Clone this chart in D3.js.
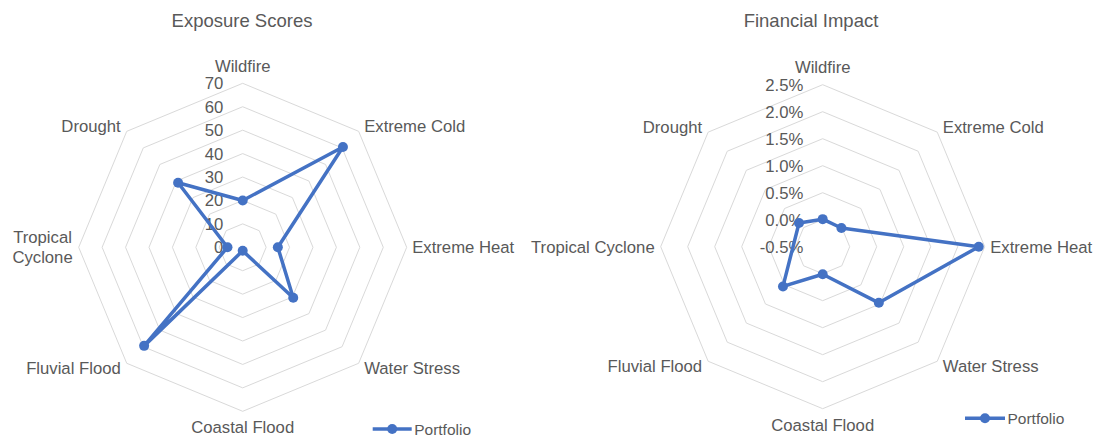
<!DOCTYPE html>
<html>
<head>
<meta charset="utf-8">
<script src="https://cdn.jsdelivr.net/npm/d3@7"></script>
<style>
  html, body { margin: 0; padding: 0; background: #ffffff; }
  svg text { font-family: "Liberation Sans", Arial, sans-serif; fill: #595959; }
</style>
</head>
<body>
<svg id="chart" width="1097" height="437"></svg>
<script>
// ---- data ----
const categories = ["Wildfire", "Extreme Cold", "Extreme Heat", "Water Stress",
                    "Coastal Flood", "Fluvial Flood", "Tropical Cyclone", "Drought"];
const seriesName = "Portfolio";
const exposureScores = [20, 60.5, 15, 30.5, 1.5, 59.5, 6.5, 39];
// percent; Tropical Cyclone has no value (line connects its neighbours, no marker)
const financialImpact = [0.01, -0.01, 2.39, 0.97, 0.01, 0.54, null, 0.12];
const exposureTicks = [0, 10, 20, 30, 40, 50, 60, 70];
const impactTicks = [-0.5, 0.0, 0.5, 1.0, 1.5, 2.0, 2.5];
const titles = ["Exposure Scores", "Financial Impact"];

// ---- layout ----
const svg = d3.select("#chart");
const COLOR = "#4472C4";
const GRID = "#d9d9d9";
const LABEL_SIZE = 16.7;

const panels = [
  { title: titles[0], values: exposureScores, ticks: exposureTicks,
    fmt: d3.format("d"), cx: 242.7, cy: 247.3, R: 164, titleX: 242, titleY: 26.5,
    legend: { x1: 372.7, x2: 411.7, y: 429 } },
  { title: titles[1], values: financialImpact, ticks: impactTicks,
    fmt: d => d.toFixed(1) + "%", cx: 822.7, cy: 246.7, R: 162, titleX: 811, titleY: 26.5,
    legend: { x1: 965, x2: 1005, y: 418.3 } }
];

const n = categories.length;
const angle = d3.scaleLinear().domain([0, n]).range([0, 2 * Math.PI]);

panels.forEach(p => {
  const g = svg.append("g");
  const r = d3.scaleLinear()
    .domain(d3.extent(p.ticks))
    .range([0, p.R]);
  const pt = (i, v) => {
    const a = angle(i), rr = r(v);
    return [p.cx + rr * Math.sin(a), p.cy - rr * Math.cos(a)];
  };

  // title
  g.append("text")
    .attr("x", p.titleX).attr("y", p.titleY)
    .attr("text-anchor", "middle")
    .style("font-size", "18.5px")
    .text(p.title);

  // grid rings (skip centre)
  const line = d3.line();
  p.ticks.slice(1).forEach(t => {
    const pts = d3.range(n).map(i => pt(i, t));
    g.append("path")
      .attr("d", line(pts) + "Z")
      .attr("fill", "none")
      .attr("stroke", GRID)
      .attr("stroke-width", 1);
  });

  // tick labels
  p.ticks.forEach(t => {
    g.append("text")
      .attr("x", p.cx - 19.4)
      .attr("y", p.cy - r(t))
      .attr("dy", "0.36em")
      .attr("text-anchor", "end")
      .style("font-size", LABEL_SIZE + "px")
      .text(p.fmt(t));
  });

  // category labels
  const rmax = d3.max(p.ticks);
  categories.forEach((c, i) => {
    const a = angle(i);
    const [vx, vy] = pt(i, rmax);
    const s = Math.round(Math.sin(a) * 1000) / 1000;
    const co = Math.round(Math.cos(a) * 1000) / 1000;
    let x = vx, y = vy, anchor = "middle";
    if (s > 0) { anchor = "start"; x = vx + 5.5; }
    else if (s < 0) { anchor = "end"; x = vx - 6; }
    if (s === 0 && co > 0) y = vy - 17.5;
    else if (s === 0 && co < 0) y = vy + 16;
    else if (co > 0.1) y = vy - 5;
    else if (co < -0.1) y = vy + 5;
    const t = g.append("text")
      .attr("x", x).attr("y", y).attr("dy", "0.36em")
      .attr("text-anchor", anchor)
      .style("font-size", LABEL_SIZE + "px")
      .text(c);
    // wrap if the label would run past the left page edge
    if (anchor === "end" && x - t.node().getComputedTextLength() < 4) {
      t.text(null).attr("dy", null);
      const words = c.split(" ");
      const widths = words.map(w => {
        const e = g.append("text").style("font-size", LABEL_SIZE + "px").text(w);
        const wlen = e.node().getComputedTextLength(); e.remove(); return wlen;
      });
      const maxW = d3.max(widths);
      const mx = x - maxW / 2;
      const lh = 20;
      words.forEach((w, k) => {
        t.append("tspan")
          .attr("x", mx)
          .attr("y", y + (k - (words.length - 1) / 2) * lh)
          .attr("dy", "0.36em")
          .attr("text-anchor", "middle")
          .text(w);
      });
    }
  });

  // series (missing values are skipped, neighbours connected)
  const spts = p.values
    .map((v, i) => (v == null ? null : pt(i, v)))
    .filter(d => d !== null);
  g.append("path")
    .attr("d", line(spts) + "Z")
    .attr("fill", "none")
    .attr("stroke", COLOR)
    .attr("stroke-width", 3.5)
    .attr("stroke-linejoin", "round");
  g.selectAll("circle.m").data(spts).enter().append("circle")
    .attr("class", "m")
    .attr("cx", d => d[0]).attr("cy", d => d[1])
    .attr("r", 5)
    .attr("fill", COLOR);

  // legend
  const L = p.legend;
  g.append("line")
    .attr("x1", L.x1).attr("x2", L.x2).attr("y1", L.y).attr("y2", L.y)
    .attr("stroke", COLOR).attr("stroke-width", 3.5);
  g.append("circle")
    .attr("cx", (L.x1 + L.x2) / 2).attr("cy", L.y).attr("r", 5).attr("fill", COLOR);
  g.append("text")
    .attr("x", L.x2 + 2.5).attr("y", L.y).attr("dy", "0.36em")
    .style("font-size", "15.5px")
    .text(seriesName);
});
</script>
</body>
</html>
